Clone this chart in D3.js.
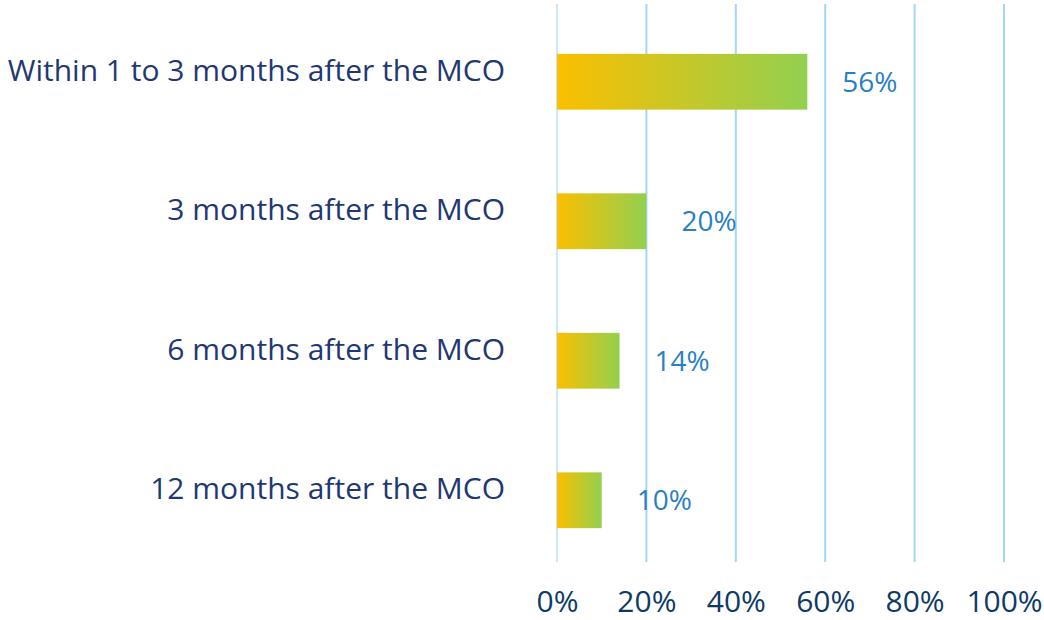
<!DOCTYPE html>
<html>
<head>
<meta charset="utf-8">
<script src="https://cdn.jsdelivr.net/npm/d3@7"></script>
<style>
  body { margin: 0; background: #fff; }
  text { font-family: "Open Sans", sans-serif; }
</style>
</head>
<body>
<div id="chart"></div>
<script>
  var width = 1044,
  height = 620;

  // data
  var categories = ["Within 1 to 3 months after the MCO", "3 months after the MCO", "6 months after the MCO", "12 months after the MCO"];
  var values = [56, 20, 14, 10];
  var ticks = [0, 20, 40, 60, 80, 100];

  var svg = d3.select("#chart").append("svg")
      .attr("width", width)
      .attr("height", height);

  var x = d3.scaleLinear()
      .domain([0, 100])
      .range([557, 1004]);

  var y = d3.scaleBand()
      .domain(categories)
      .range([12, 570])
      .paddingInner(0.6)
      .paddingOuter(0.3);

  var grad = svg.append("defs").append("linearGradient")
      .attr("id", "barGrad")
      .attr("x1", "0%").attr("x2", "100%")
      .attr("y1", "0%").attr("y2", "0%");
  grad.append("stop").attr("offset", "0%").attr("stop-color", "#fbbf00");
  grad.append("stop").attr("offset", "100%").attr("stop-color", "#92d050");

  // gridlines
  svg.append("g")
    .selectAll("line")
    .data(ticks)
    .enter().append("line")
      .attr("x1", function(d) { return x(d); })
      .attr("x2", function(d) { return x(d); })
      .attr("y1", 4)
      .attr("y2", 562)
      .attr("stroke", function(d) { return d ? "#a3d7f5" : "#cce7fb"; })
      .attr("stroke-width", 2);

  // axis labels
  var axis = svg.append("g")
      .attr("transform", "translate(0,612)")
      .call(d3.axisBottom(x)
        .tickValues(ticks)
        .tickSize(0)
        .tickPadding(0)
        .tickFormat(function(d) { return d + "%"; }));
  axis.select(".domain").remove();
  axis.selectAll("text")
      .attr("dy", 0)
      .attr("fill", "#0e3a66")
      .style("font-size", "30px")
      .style("font-family", "'Open Sans', sans-serif");

  // bars
  svg.append("g")
    .selectAll("rect")
    .data(values)
    .enter().append("rect")
      .attr("x", x(0))
      .attr("y", function(d, i) { return y(categories[i]); })
      .attr("width", function(d) { return x(d) - x(0); })
      .attr("height", y.bandwidth())
      .attr("fill", "url(#barGrad)");

  // value labels
  svg.append("g")
    .selectAll("text")
    .data(values)
    .enter().append("text")
      .attr("x", function(d) { return x(d) + 35; })
      .attr("y", function(d, i) { return y(categories[i]) + y.bandwidth() / 2; })
      .attr("dy", "0.35em")
      .attr("fill", "#2a7fc4")
      .style("font-size", "28px")
      .text(function(d) { return d + "%"; });

  // category labels
  svg.append("g")
    .selectAll("text")
    .data(categories)
    .enter().append("text")
      .attr("x", 505)
      .attr("y", function(d) { return y(d) + y.bandwidth() / 2 - 1; })
      .attr("text-anchor", "end")
      .attr("fill", "#1f3872")
      .style("font-size", "30px")
      .text(function(d) { return d; });
</script>
</body>
</html>
